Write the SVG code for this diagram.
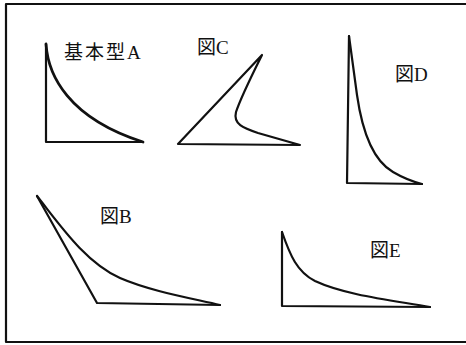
<svg xmlns="http://www.w3.org/2000/svg" width="466" height="345" viewBox="0 0 466 345">
<style>
.ln{fill:none;stroke:#111;stroke-width:2.2;stroke-linejoin:round;stroke-linecap:round}
.lb{font-family:"Liberation Serif","Noto Sans CJK JP",serif;font-size:19px;fill:#111}
</style>
<rect width="466" height="345" fill="#fff"/>
<g id="frame">
<path class="ln" d="M466,4 L6,4 L6,342 L466,342"/>
</g>
<g id="shapeA">
<path class="ln" d="M46,44 L46,142 L143,142"/>
<path class="ln" style="stroke-width:2.8" d="M46,44 C48,75 68,118 143,142"/>
<text class="lb" x="64" y="59" letter-spacing="2">基本型A</text>
</g>
<g id="shapeC">
<path class="ln" d="M178,144 L262,55 C252,75 240,100 236,112 C233,124 243,128 258,133 L300,145 Z"/>
<text class="lb" x="197" y="54">図C</text>
</g>
<g id="shapeD">
<path class="ln" d="M349,36 L347,183 L422,184"/>
<path class="ln" d="M349,36 L357,95 C362,130 372,160 393,172 C405,179 414,182 422,184"/>
<text class="lb" x="395" y="81">図D</text>
</g>
<g id="shapeB">
<path class="ln" d="M37,196 L97,303 L220,305"/>
<path class="ln" d="M37,196 C60,225 85,262 120,278 C150,291 190,298 220,305"/>
<text class="lb" x="100" y="223">図B</text>
</g>
<g id="shapeE">
<path class="ln" d="M282,232 L282,306 L430,307"/>
<path class="ln" d="M282,232 C290,255 297,272 315,281 C345,295 390,300 430,307"/>
<text class="lb" x="370" y="257">図E</text>
</g>
</svg>
